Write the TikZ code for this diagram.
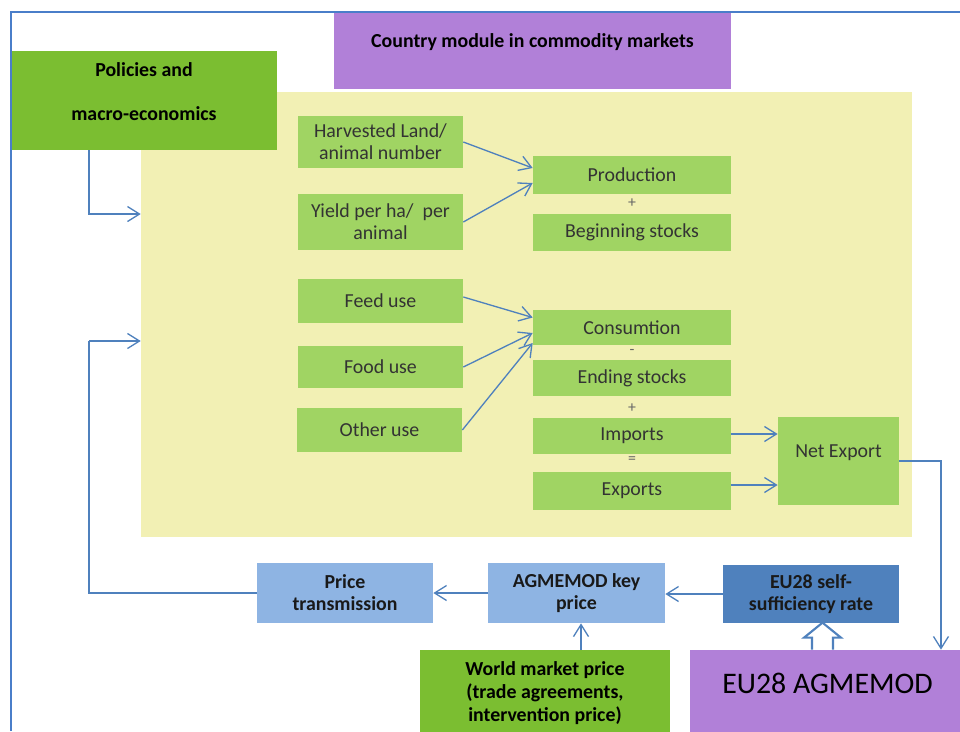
\documentclass[tikz,border=0pt]{standalone}
\usepackage{fontspec}
\setmainfont{Carlito}
\usepackage{xcolor}
\usepackage{tikz}
\usetikzlibrary{arrows.meta,positioning,calc}
\definecolor{frameblue}{RGB}{74, 126, 201}
\definecolor{linkblue}{RGB}{79, 129, 189}
\definecolor{modpurple}{RGB}{177, 128, 216}
\definecolor{policygreen}{RGB}{123, 190, 49}
\definecolor{itemgreen}{RGB}{160, 212, 99}
\definecolor{areayellow}{RGB}{242, 240, 180}
\definecolor{priceblue}{RGB}{142, 180, 227}
\definecolor{rateblue}{RGB}{79, 129, 189}

\begin{document}
\begin{tikzpicture}[x=0.02cm, y=-0.02cm,
    box/.style={draw=none, inner sep=0pt, align=center, font=\fontsize{11.3}{12.5}\selectfont},
    itembox/.style={box, fill=itemgreen, text=black!80},
    titlebox/.style={box, font=\fontsize{11.3}{12.5}\selectfont\bfseries},
    pricebox/.style={titlebox, fill=priceblue, text=black!90},
    sign/.style={inner sep=0pt, font=\fontsize{9}{10}\selectfont, text=black!60},
    flow/.style={draw=linkblue, line width=0.75pt, -{Straight Barb[length=0.24cm, width=0.3cm]}},
    plain/.style={draw=linkblue, line width=0.75pt}]
    \useasboundingbox (0,0) rectangle (960,731);

    % Module title and policy block
    \node[titlebox, fill=modpurple, minimum width=7.94cm, minimum height=1.54cm,
        text height=0.3cm, text depth=0.42cm] (module) at (532.5,50.5) {Country module in commodity markets};
    \node[box, fill=areayellow, minimum width=15.42cm, minimum height=8.9cm] (area) at (526.5,314.5) {};
    \node[titlebox, fill=policygreen, minimum width=5.32cm, minimum height=1.98cm,
        text height=0.9cm, text depth=0.1cm] (policy) at (144,100.5) {Policies and\\[0.44cm]macro-economics};

    % Supply side
    \node[itembox, minimum width=3.3cm, minimum height=1.04cm] (land) at (380.5,142) {Harvested Land/\\animal number};
    \node[itembox, minimum width=3.3cm, minimum height=1.12cm] (yield) at (380.5,222) {Yield per ha/\ \ per\\animal};
    \node[itembox, minimum width=3.96cm, minimum height=0.76cm] (prod) at (632,175) {Production};
    \node[sign] at (632,203) {+};
    \node[itembox, minimum width=3.96cm, minimum height=0.74cm] (begin) at (632,232.5) {Beginning stocks};

    % Demand side
    \node[itembox, minimum width=3.3cm, minimum height=0.88cm] (feed) at (380.5,301) {Feed use};
    \node[itembox, minimum width=3.3cm, minimum height=0.84cm] (food) at (380.5,367) {Food use};
    \node[itembox, minimum width=3.3cm, minimum height=0.88cm] (other) at (379.5,430) {Other use};
    \node[itembox, minimum width=3.96cm, minimum height=0.7cm] (cons) at (632,327.5) {Consumtion};
    \node[sign] at (632,352) {-};
    \node[itembox, minimum width=3.96cm, minimum height=0.72cm] (endst) at (632,378) {Ending stocks};
    \node[sign] at (632,408) {+};
    \node[itembox, minimum width=3.96cm, minimum height=0.72cm] (imp) at (632,436) {Imports};
    \node[sign] at (632,460) {=};
    \node[itembox, minimum width=3.96cm, minimum height=0.76cm] (exp) at (632,491) {Exports};
    \node[itembox, minimum width=2.42cm, minimum height=1.76cm,
        text height=0.3cm, text depth=0.44cm] (net) at (838.5,461) {Net Export};

    % Price chain
    \node[pricebox, minimum width=3.52cm, minimum height=1.2cm] (trans) at (345,593) {Price\\transmission};
    \node[pricebox, minimum width=3.54cm, minimum height=1.2cm] (key) at (576.5,593) {AGMEMOD key\\price};
    \node[titlebox, fill=rateblue, text=black!90, minimum width=3.52cm, minimum height=1.16cm] (rate) at (811,594) {EU28 self-\\sufficiency rate};
    \node[titlebox, fill=policygreen, minimum width=5cm, minimum height=1.72cm,
        font=\fontsize{11.3}{13.3}\selectfont\bfseries] (world) at (545,693) {World market price\\(trade agreements,\\intervention price)};
    \node[box, fill=modpurple, minimum width=5.5cm, minimum height=1.72cm,
        font=\fontsize{17}{20}\selectfont, text height=0.4cm, text depth=0.4cm] (eu) at (827.5,693) {EU28 AGMEMOD};
    \coordinate (rail) at (89,341);

    % Arrows
    \draw[flow] (land.east) -- ([yshift=0.14cm]prod.west);
    \draw[flow] (yield.east) -- ([yshift=-0.16cm]prod.west);
    \draw[flow] ([yshift=0.08cm]feed.east) -- ([yshift=0.2cm]cons.west);
    \draw[flow] (food.east) -- ([yshift=-0.11cm]cons.west);
    \draw[flow] (other.east) -- ([yshift=-0.31cm]cons.west);
    \draw[flow] ([yshift=0.04cm]imp.east) -- ([yshift=0.04cm]imp.east -| net.west);
    \draw[flow] ([yshift=0.12cm]exp.east) -- ([yshift=0.12cm]exp.east -| net.west);
    \draw[flow] (net.east) -| ([xshift=2.27cm]eu.north);
    \draw[flow] ([xshift=-1.1cm]policy.south) |- ([yshift=2.01cm]area.west);
    \draw[plain] (trans.west) -| (rail);
    \draw[flow] (rail) -- (rail -| area.west);
    \draw[flow] (key) -- (trans);
    \draw[flow] (rate.west) -- (rate.west -| key.east);
    \draw[flow] ([xshift=0.09cm]key.south |- world.north) -- ([xshift=0.09cm]key.south);
    \draw[draw=linkblue, line width=1.2pt, fill=white, line join=miter]
        (eu.north -| rate.south) ++(1,0)
        -- ++(0,-12) -- ++(-8,0) -- ++(18.5,-15) -- ++(18.5,15) -- ++(-8,0) -- ++(0,12);

    % Outer frame
    \draw[frameblue, line width=1.3pt] (11,731) -- (11,12) -- (960,12);
\end{tikzpicture}
\end{document}
